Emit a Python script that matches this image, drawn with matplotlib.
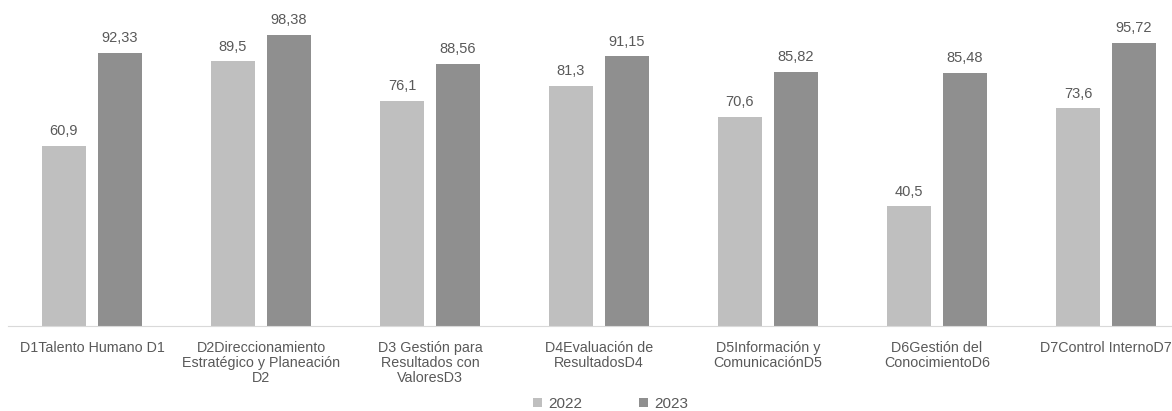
import numpy as np
import matplotlib.pyplot as plt

categories = [
    "D1Talento Humano D1",
    "D2Direccionamiento\nEstratégico y Planeación\nD2",
    "D3 Gestión para\nResultados con\nValoresD3",
    "D4Evaluación de\nResultadosD4",
    "D5Información y\nComunicaciónD5",
    "D6Gestión del\nConocimientoD6",
    "D7Control InternoD7",
]
v2022 = [60.9, 89.5, 76.1, 81.3, 70.6, 40.5, 73.6]
v2023 = [92.33, 98.38, 88.56, 91.15, 85.82, 85.48, 95.72]
series_names = ["2022", "2023"]

plt.rcParams['font.family'] = ['Liberation Sans', 'DejaVu Sans']
txt = '#595959'

fig = plt.figure(figsize=(11.72, 4.11), dpi=100)
ax = fig.add_axes([7.5 / 1172, 85 / 411, 1183 / 1172, 295.8 / 411])

x = np.arange(len(categories))
w = 0.26
off = 0.166
b1 = ax.bar(x - off, v2022, w, color='#BFBFBF', label=series_names[0])
b2 = ax.bar(x + off, v2023, w, color='#8F8F8F', label=series_names[1])

for bars, vals in [(b1, v2022), (b2, v2023)]:
    for b, v in zip(bars, vals):
        ax.text(b.get_x() + b.get_width() / 2, v + 2.6, f"{v:g}".replace('.', ','),
                ha='center', va='bottom', fontsize=10.5, color=txt)

ax.set_xlim(-0.5, len(categories) - 0.5)
ax.set_ylim(0, 100)
ax.set_xticks(x)
ax.set_xticklabels(categories, fontsize=10.3, color=txt, linespacing=1.1)
ax.tick_params(axis='x', length=0, pad=11)
ax.set_yticks([])
for s in ['top', 'right', 'left']:
    ax.spines[s].set_visible(False)
ax.spines['bottom'].set_color('#D9D9D9')

leg = fig.legend(loc='lower center', bbox_to_anchor=(0.521, -0.033), ncol=2, frameon=False,
                 fontsize=11, handlelength=0.6, handleheight=0.6, handletextpad=0.4,
                 columnspacing=3.7)
for t in leg.get_texts():
    t.set_color(txt)

fig.savefig('out.png', dpi=100)
